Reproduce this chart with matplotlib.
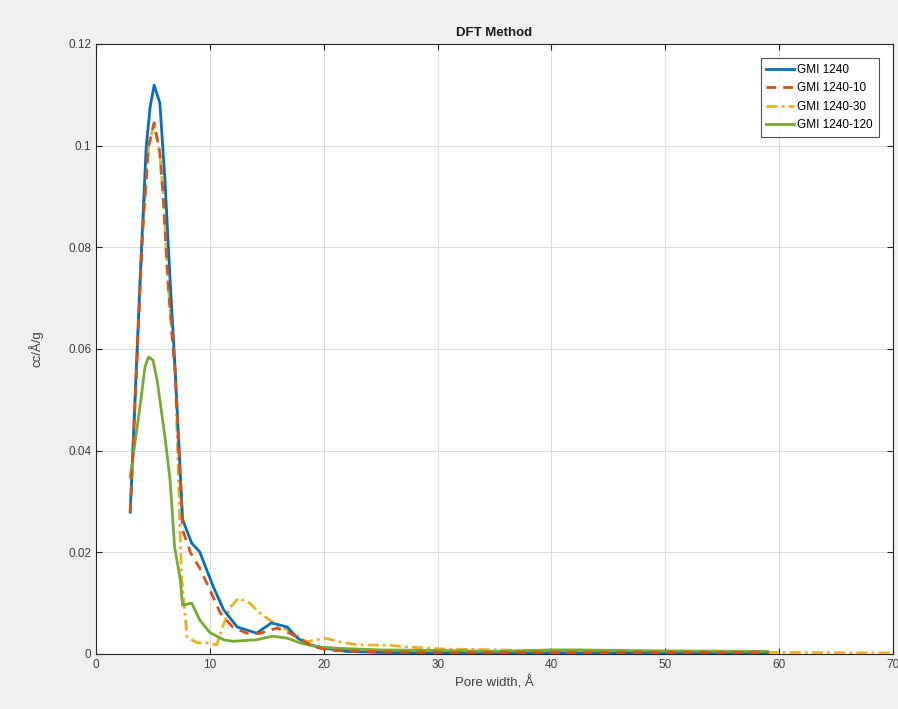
import numpy as np
import matplotlib
matplotlib.use('Agg')
import matplotlib.pyplot as plt

plt.rcParams['font.family'] = ['Liberation Sans', 'DejaVu Sans']

# GMI 1240
x_1240 = [3.0, 3.9, 4.4, 4.75, 5.1, 5.6, 6.05, 6.5, 6.95, 7.6, 8.4, 9.1, 10.3, 11.2, 12.4,
          14.1, 15.4, 16.8, 17.7, 18.8, 19.9, 22.0, 25.0, 30.0, 35.0, 40.0, 45.0, 50.0, 55.0, 59.0]
y_1240 = [0.0279, 0.0755, 0.0997, 0.1076, 0.1119, 0.1084, 0.0932, 0.0736, 0.0559, 0.0264, 0.0218,
          0.0201, 0.0132, 0.0087, 0.0053, 0.0041, 0.0061, 0.0053, 0.0031, 0.0018, 0.0012, 0.0005,
          0.0003, 0.0002, 0.0002, 0.0002, 0.0002, 0.0002, 0.0002, 0.0002]

# GMI 1240-10
x_10 = [3.0, 3.9, 4.1, 4.6, 5.1, 5.6, 5.9, 6.3, 6.95, 7.6, 8.3, 9.1, 10.0, 10.9, 12.0,
        13.2, 14.3, 15.9, 17.0, 17.9, 19.0, 20.5, 25.0, 30.0, 35.0, 40.0, 45.0, 50.0, 55.0, 59.0]
y_10 = [0.0279, 0.0736, 0.0834, 0.0997, 0.1045, 0.0985, 0.0899, 0.0736, 0.0550, 0.0244, 0.0199,
        0.0169, 0.0126, 0.0081, 0.0053, 0.0041, 0.0040, 0.0051, 0.0041, 0.0030, 0.0015, 0.0007,
        0.0004, 0.0003, 0.0003, 0.0003, 0.0003, 0.0003, 0.0003, 0.0003]

# GMI 1240-30 (hidden under the other two up to ~7 A)
x_30 = [3.0, 3.9, 4.1, 4.6, 5.1, 5.6, 5.9, 6.3, 6.95, 7.5, 8.0, 8.9, 9.7, 10.6, 11.1, 11.8, 12.5,
        13.5, 14.4, 15.5, 17.3, 18.5, 20.1, 21.4, 22.9, 25.8, 27.3, 30.2, 40.0, 50.0, 60.0, 70.0]
y_30 = [0.0279, 0.0736, 0.0834, 0.0997, 0.1045, 0.0985, 0.0899, 0.0736, 0.0550, 0.0155, 0.0033,
        0.0022, 0.0022, 0.0018, 0.0053, 0.0092, 0.0110, 0.0100, 0.0080, 0.0063, 0.0041, 0.0024,
        0.0031, 0.0024, 0.0018, 0.0017, 0.0014, 0.0010, 0.0006, 0.0004, 0.0003, 0.0002]

# GMI 1240-120
x_120 = [3.0, 3.9, 4.3, 4.6, 5.0, 5.4, 6.05, 6.5, 6.9, 7.4, 7.6, 8.4, 9.1, 10.0, 11.2,
         12.0, 14.1, 15.5, 16.8, 17.9, 19.4, 21.4, 25.0, 30.0, 35.0, 40.0, 42.0, 50.0, 59.0]
y_120 = [0.0348, 0.0494, 0.0565, 0.0584, 0.0578, 0.0533, 0.0427, 0.0342, 0.0210, 0.0146, 0.0096,
         0.0100, 0.0067, 0.0042, 0.0028, 0.0025, 0.0028, 0.0035, 0.0031, 0.0022, 0.0014, 0.0011,
         0.0008, 0.0007, 0.0005, 0.0008, 0.0008, 0.0006, 0.0005]

labels = ['GMI 1240', 'GMI 1240-10', 'GMI 1240-30', 'GMI 1240-120']

fig = plt.figure(figsize=(8.98, 7.09), dpi=100, facecolor='#f0f0f0')
ax = fig.add_axes([0.107, 0.0776, 0.8874, 0.8604])
ax.set_facecolor('white')

ax.plot(x_1240, y_1240, color='#0072BD', lw=2.0, label=labels[0], zorder=4)
ax.plot(x_10, y_10, color='#D95319', lw=2.0, ls=(0, (3.5, 2.5)), label=labels[1], zorder=5)
ax.plot(x_30, y_30, color='#EDB120', lw=2.0, ls=(0, (4, 1.5, 1, 1.5)), label=labels[2], zorder=3)
ax.plot(x_120, y_120, color='#77AC30', lw=2.0, label=labels[3], zorder=4)

ax.set_xlim(0, 70)
ax.set_ylim(0, 0.12)
ax.set_xticks(np.arange(0, 71, 10))
ax.set_yticks(np.arange(0, 0.121, 0.02))
ax.set_yticklabels(['0', '0.02', '0.04', '0.06', '0.08', '0.1', '0.12'])
ax.grid(True, color='#dcdcdc', lw=0.8)
ax.set_axisbelow(True)
ax.tick_params(direction='in', top=True, right=True, length=4, labelsize=8.5,
               colors='#262626', labelcolor='#404040')
for s in ax.spines.values():
    s.set_color('#262626')
    s.set_linewidth(0.8)

ax.set_title('DFT Method', fontsize=9.5, fontweight='bold', color='#1a1a1a', pad=6)
ax.set_xlabel('Pore width, Å', fontsize=9.5, color='#404040')
ax.set_ylabel('cc/Å/g', fontsize=9.5, color='#404040', labelpad=18)

leg = ax.legend(loc='upper right', fontsize=8.5, frameon=True, fancybox=False,
                edgecolor='#262626', handlelength=2.3, borderpad=0.5,
                labelspacing=0.55, handletextpad=0.3, bbox_to_anchor=(0.9895, 0.9865))
leg.get_frame().set_linewidth(0.8)

fig.savefig('out.png', dpi=100, facecolor=fig.get_facecolor())
